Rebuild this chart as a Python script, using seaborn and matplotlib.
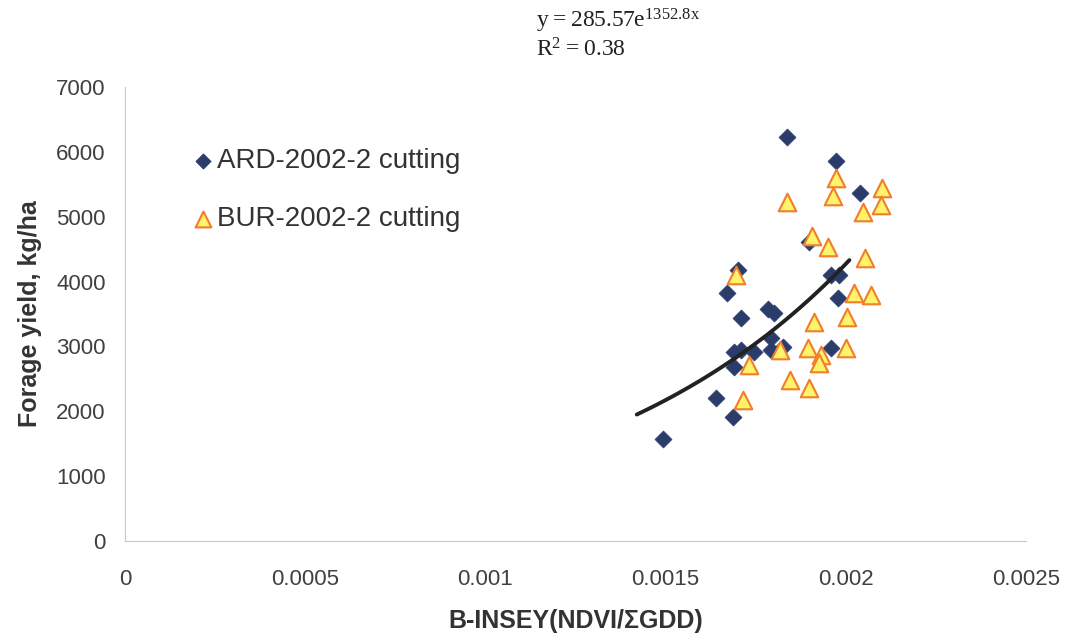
import numpy as np
import pandas as pd
import matplotlib
matplotlib.use("Agg")
import matplotlib.pyplot as plt
import seaborn as sns

# B-INSEY (NDVI / sum of GDD) and forage yield (kg/ha), 2002 second cutting
ard_insey = [0.001492, 0.001640, 0.001686, 0.001689, 0.001689, 0.001669,
             0.001700, 0.001708, 0.001708, 0.001744, 0.001783, 0.001800,
             0.001792, 0.001792, 0.001825, 0.001836, 0.001897, 0.001958,
             0.001981, 0.001978, 0.001958, 0.001972, 0.002039]
ard_yield = [1580, 2210, 1905, 2690, 2910, 3830,
             4180, 3440, 2945, 2915, 3570, 3515,
             3130, 2945, 2990, 6230, 4610, 4100,
             4100, 3750, 2975, 5860, 5365]

bur_insey = [0.001836, 0.001972, 0.001964, 0.002100, 0.002097, 0.002047,
             0.001906, 0.001950, 0.002053, 0.001694, 0.002022, 0.002070,
             0.001911, 0.002003, 0.001817, 0.001894, 0.001931, 0.001925,
             0.002000, 0.001731, 0.001844, 0.001897, 0.001714]
bur_yield = [5230, 5600, 5320, 5440, 5180, 5070,
             4700, 4530, 4360, 4100, 3820, 3790,
             3380, 3450, 2945, 2975, 2870, 2745,
             2975, 2715, 2480, 2360, 2175]

series_names = ["ARD-2002-2 cutting", "BUR-2002-2 cutting"]
x_ticks = [0, 0.0005, 0.001, 0.0015, 0.002, 0.0025]
x_tick_labels = ["0", "0.0005", "0.001", "0.0015", "0.002", "0.0025"]
y_ticks = [0, 1000, 2000, 3000, 4000, 5000, 6000, 7000]

# exponential trend y = a * exp(b * x), r squared, and the span it is drawn over
trend_a = 285.57
trend_b = 1352.8
trend_r2 = 0.38
trend_range = [0.00142, 0.00201]

sns.set_theme(style="white")
plt.rcParams["font.family"] = ["Liberation Sans", "DejaVu Sans"]
plt.rcParams["mathtext.fontset"] = "custom"
plt.rcParams["mathtext.rm"] = "Liberation Serif"

ard = pd.DataFrame({"insey": ard_insey, "yield": ard_yield})
bur = pd.DataFrame({"insey": bur_insey, "yield": bur_yield})
tx = np.linspace(trend_range[0], trend_range[1], 100)
trend = pd.DataFrame({"insey": tx, "yield": trend_a * np.exp(trend_b * tx)})

fig = plt.figure(figsize=(10.72, 6.39), dpi=100)
ax = fig.add_axes([0.1166, 0.1534, 0.8405, 0.7104])

sns.scatterplot(data=ard, x="insey", y="yield", ax=ax, marker="D", s=75,
                color="#2b3c6b", edgecolor="#2b3c6b", linewidth=0.5,
                label=series_names[0], zorder=3)
sns.scatterplot(data=bur, x="insey", y="yield", ax=ax, marker="^", s=160,
                color="#fff36b", edgecolor="#f07e2a", linewidth=1.5,
                label=series_names[1], zorder=4)
sns.lineplot(data=trend, x="insey", y="yield", ax=ax, color="#222222",
             linewidth=2.8, zorder=5, legend=False)

ax.set_xlim(0, 0.0025)
ax.set_ylim(0, 7000)
ax.set_xticks(x_ticks)
ax.set_xticklabels(x_tick_labels)
ax.set_yticks(y_ticks)
ax.tick_params(axis="both", labelsize=16, colors="#aaaaaa", labelcolor="#404040",
               length=4, width=0.8, direction="out")
ax.tick_params(axis="x", pad=16)
ax.tick_params(axis="y", pad=10)
for side in ["top", "right"]:
    ax.spines[side].set_visible(False)
for side in ["left", "bottom"]:
    ax.spines[side].set_color("#c8c8c8")
    ax.spines[side].set_linewidth(0.8)

ax.set_xlabel("B-INSEY(NDVI/ΣGDD)", fontsize=18, fontweight="bold",
              color="#333333", labelpad=14)
ax.set_ylabel("Forage yield, kg/ha", fontsize=18, fontweight="bold",
              color="#333333", labelpad=10)

leg = ax.legend(loc="upper left", bbox_to_anchor=(0.06, 0.89), frameon=False,
                fontsize=20, handletextpad=0.05, labelspacing=1.15,
                borderaxespad=0, handlelength=0.9, markerscale=0.9)
for t in leg.get_texts():
    t.set_color("#333333")

fig.text(0.5, 0.968, rf"$\mathrm{{y = {trend_a}e^{{{trend_b}x}}}}$", fontsize=17,
         color="#222222", va="center", ha="left")
fig.text(0.5, 0.922, rf"$\mathrm{{R^{{2}} = {trend_r2}}}$", fontsize=17,
         color="#222222", va="center", ha="left")

fig.savefig("out.png", dpi=100, facecolor="white")
